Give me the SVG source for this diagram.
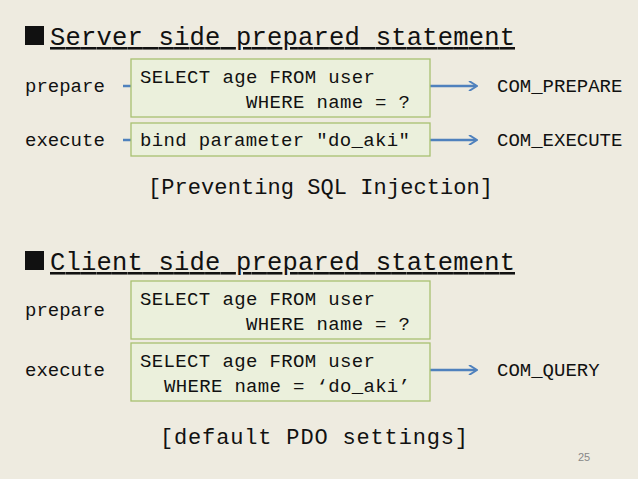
<svg xmlns="http://www.w3.org/2000/svg" width="638" height="479" viewBox="0 0 638 479">
<style>
text{font-family:"Liberation Mono","DejaVu Sans Mono",monospace;fill:#111}
.h{font-size:25.5px;text-decoration:underline}
.t{font-size:19px}
.box{fill:#ebf0dc;stroke:#a8c070;stroke-width:1.3}
.c{stroke:#4f81bd;stroke-width:2.5;fill:none}
</style>
<defs><marker id="a" markerWidth="10" markerHeight="10" refX="8" refY="5" orient="auto" markerUnits="userSpaceOnUse"><path d="M1,0 L9,5 L1,10" fill="none" stroke="#4f81bd" stroke-width="2"/></marker></defs>
<rect width="638" height="479" fill="#eeebe0"/>
<g id="title1"><rect x="25" y="26" width="19" height="19" fill="#111"/><text class="h" x="50" y="45" textLength="465">Server side prepared statement</text></g>
<g id="title2"><rect x="25" y="251" width="19" height="19" fill="#111"/><text class="h" x="50" y="270" textLength="465">Client side prepared statement</text></g>
<g id="connectors">
<path class="c" d="M123,86H131"/><path class="c" d="M123,140H131"/>
<path class="c" d="M430,86H476" marker-end="url(#a)"/>
<path class="c" d="M430,140H476" marker-end="url(#a)"/>
<path class="c" d="M430,370H476" marker-end="url(#a)"/>
</g>
<g id="labels" class="t">
<text class="t" x="25" y="92">prepare</text>
<text class="t" x="25" y="146">execute</text>
<text class="t" x="25" y="316">prepare</text>
<text class="t" x="25" y="376">execute</text>
<text class="t" x="497" y="92">COM_PREPARE</text>
<text class="t" x="497" y="146">COM_EXECUTE</text>
<text class="t" x="497" y="376">COM_QUERY</text>
</g>
<g id="n1"><rect class="box" x="131" y="59" width="299" height="58"/><text class="t" x="140" y="83" textLength="235">SELECT age FROM user</text><text class="t" x="246" y="108" textLength="164">WHERE name = ?</text></g>
<g id="n2"><rect class="box" x="131" y="123" width="299" height="33"/><text class="t" x="140" y="146" textLength="270">bind parameter "do_aki"</text></g>
<g id="n3"><rect class="box" x="131" y="281" width="299" height="58"/><text class="t" x="140" y="305" textLength="235">SELECT age FROM user</text><text class="t" x="246" y="330" textLength="164">WHERE name = ?</text></g>
<g id="n4"><rect class="box" x="131" y="343" width="299" height="58"/><text class="t" x="140" y="367" textLength="235">SELECT age FROM user</text><text class="t" x="164" y="392" textLength="246">WHERE name = ‘do_aki’</text></g>
<text x="148" y="194" font-size="22" textLength="345">[Preventing SQL Injection]</text>
<text x="160" y="444" font-size="22" textLength="308">[default PDO settings]</text>
<text x="578" y="461" font-size="11" style="fill:#888;font-family:'Liberation Sans',sans-serif">25</text>
</svg>
